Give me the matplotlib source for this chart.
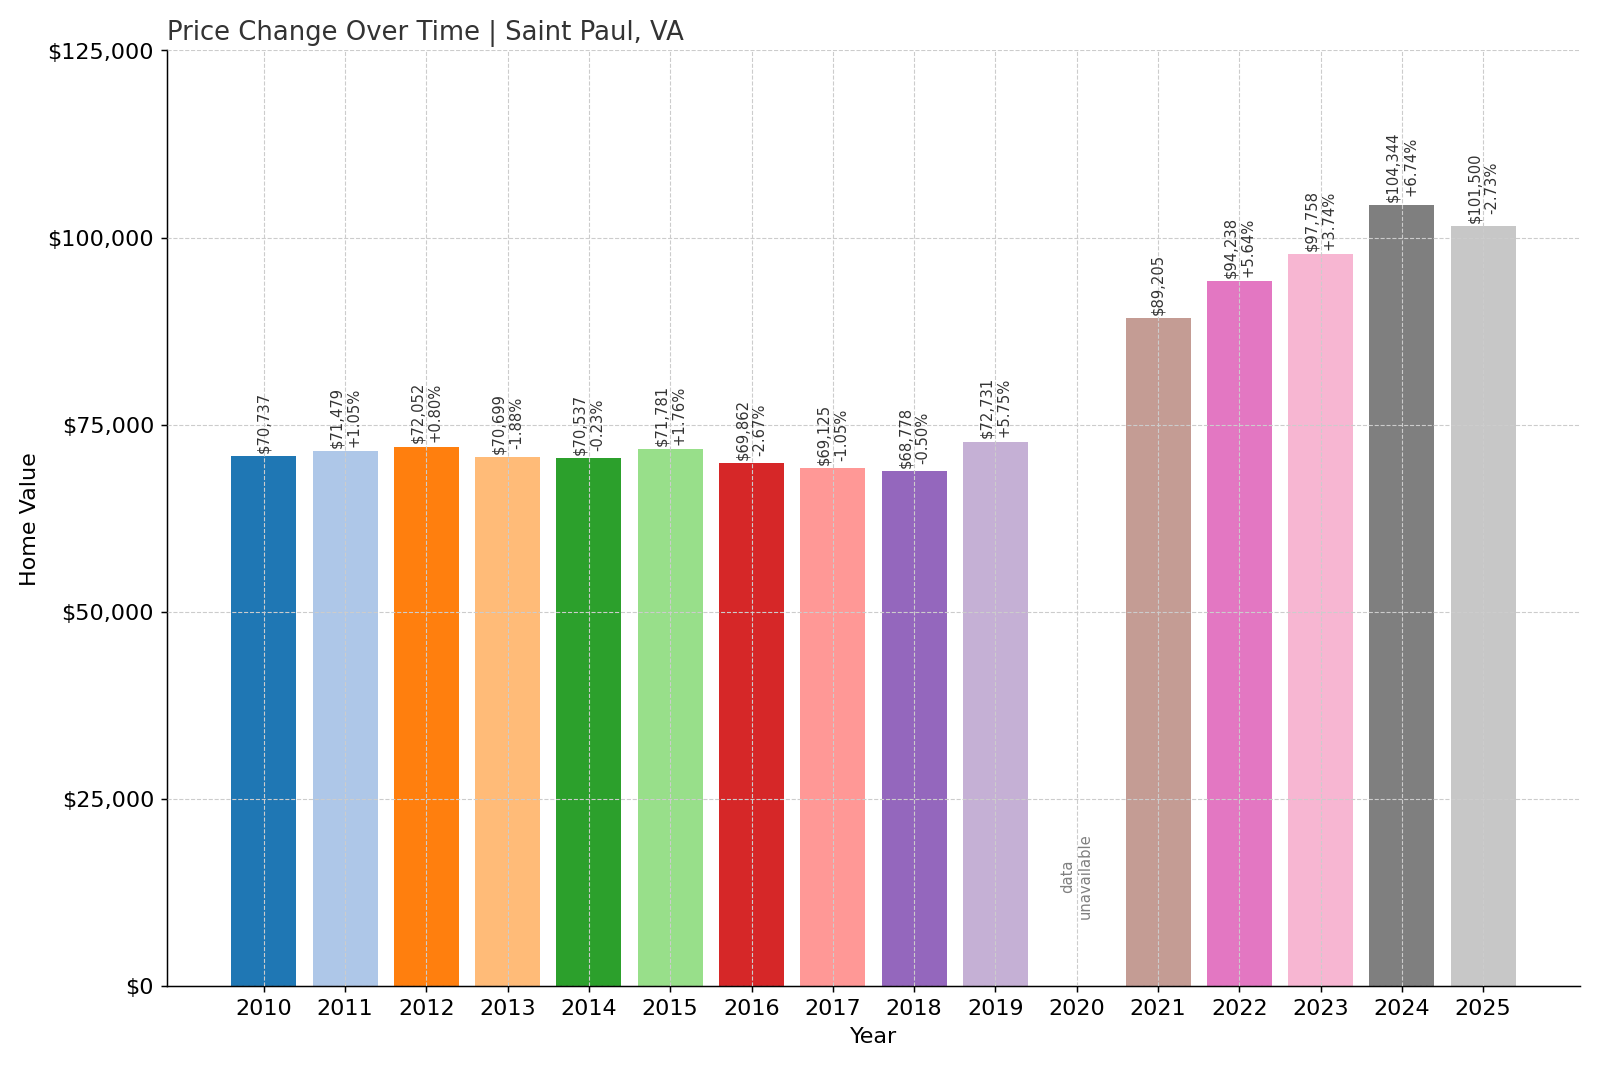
import matplotlib
matplotlib.use("Agg")
import matplotlib.pyplot as plt
from matplotlib.ticker import FuncFormatter
import numpy as np

years = list(range(2010, 2026))
values = [70737, 71479, 72052, 70699, 70537, 71781, 69862, 69125, 68778, 72731,
          np.nan, 89205, 94238, 97758, 104344, 101500]
changes = [None, "+1.05%", "+0.80%", "-1.88%", "-0.23%", "+1.76%", "-2.67%", "-1.05%",
           "-0.50%", "+5.75%", None, None, "+5.64%", "+3.74%", "+6.74%", "-2.73%"]

colors = plt.get_cmap("tab20").colors

fig, ax = plt.subplots(figsize=(12, 8), dpi=133.33)
for i, (yr, v) in enumerate(zip(years, values)):
    if np.isnan(v):
        ax.text(yr, 9000, "data\nunavailable", rotation=90, ha="center", va="bottom",
                fontsize=8, color="gray")
        continue
    ax.bar(yr, v, color=colors[i % 20], width=0.8, zorder=2)
    label = f"${v:,.0f}"
    if changes[i]:
        label += "\n" + changes[i]
    ax.text(yr, v + 500, label, rotation=90, ha="center", va="bottom",
            fontsize=8, color="#333333", zorder=3)

ax.set_ylim(0, 125000)
ax.set_xticks(years)
ax.set_xticklabels([str(y) for y in years], fontsize=12)
ax.yaxis.set_major_locator(matplotlib.ticker.MultipleLocator(25000))
ax.yaxis.set_major_formatter(FuncFormatter(lambda x, p: f"${x:,.0f}"))
ax.tick_params(axis="y", labelsize=12)
ax.grid(True, linestyle="--", color="#cccccc", linewidth=0.6, zorder=0)
ax.set_axisbelow(False)
for s in ["top", "right"]:
    ax.spines[s].set_visible(False)
ax.set_xlabel("Year", fontsize=12)
ax.set_ylabel("Home Value", fontsize=12)
ax.set_title("Price Change Over Time | Saint Paul, VA", loc="left", fontsize=14, color="#333333")

plt.tight_layout()
plt.savefig("out.png", dpi=133.33)
plt.close()
